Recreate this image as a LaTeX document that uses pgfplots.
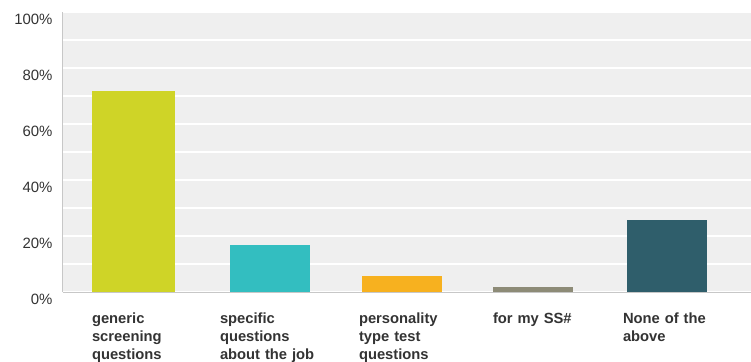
\documentclass[border=0pt]{standalone}
\usepackage{pgfplots}
\pgfplotsset{compat=1.18}
\usepackage{fontspec}
\setmainfont{Liberation Sans}
\definecolor{bg}{HTML}{EFEFEF}
\definecolor{txt}{HTML}{333333}
\definecolor{cA}{HTML}{CFD427}
\definecolor{cB}{HTML}{33BEC0}
\definecolor{cC}{HTML}{F7B11F}
\definecolor{cD}{HTML}{8D8B77}
\definecolor{cE}{HTML}{2F5E6B}
\begin{document}
\begin{tikzpicture}
\useasboundingbox (0,0) rectangle (751bp,362bp);
\begin{axis}[
  at={(63bp,70bp)}, anchor=south west,
  scale only axis, width=688bp, height=280bp,
  xmin=0, xmax=688, ymin=0, ymax=100,
  axis background/.style={fill=bg},
  axis x line*=bottom, axis y line*=left,
  axis line style={draw=black!22, line width=1bp, -},
  ybar, bar width=80bp,
  xtick={29,157,296,430,560},
  xticklabels={{generic\\screening\\questions},{specific\\questions\\about the job},{personality\\type test\\questions},{for my SS\#},{None of the\\above}},
  xticklabel style={anchor=north west, align=left, text width=140bp, xshift=-3.5bp, yshift=-17bp,
     font=\bfseries\fontsize{14.8}{18}\selectfont, text=txt},
  ytick={0,20,40,60,80,100},
  minor ytick={10,30,50,70,90},
  yticklabel={\pgfmathprintnumber{\tick}\%},
  yticklabel style={font=\fontsize{15}{17}\selectfont, text=txt, yshift=-7.5bp, xshift=-7bp},
  /pgf/number format/assume math mode=true,
  ymajorgrids, yminorgrids,
  major grid style={white, line width=1.5bp},
  minor grid style={white, line width=1.5bp},
  major tick length=0pt, minor tick length=0pt,
  clip=false,
]
\addplot[fill=cA, draw=none, bar shift=0pt, bar width=83bp] coordinates {(70.5,71.8)};
\addplot[fill=cB, draw=none, bar shift=0pt] coordinates {(206.5,16.7)};
\addplot[fill=cC, draw=none, bar shift=0pt] coordinates {(339,5.7)};
\addplot[fill=cD, draw=none, bar shift=0pt] coordinates {(470,1.7)};
\addplot[fill=cE, draw=none, bar shift=0pt] coordinates {(603.5,25.7)};
\end{axis}
\end{tikzpicture}
\end{document}
